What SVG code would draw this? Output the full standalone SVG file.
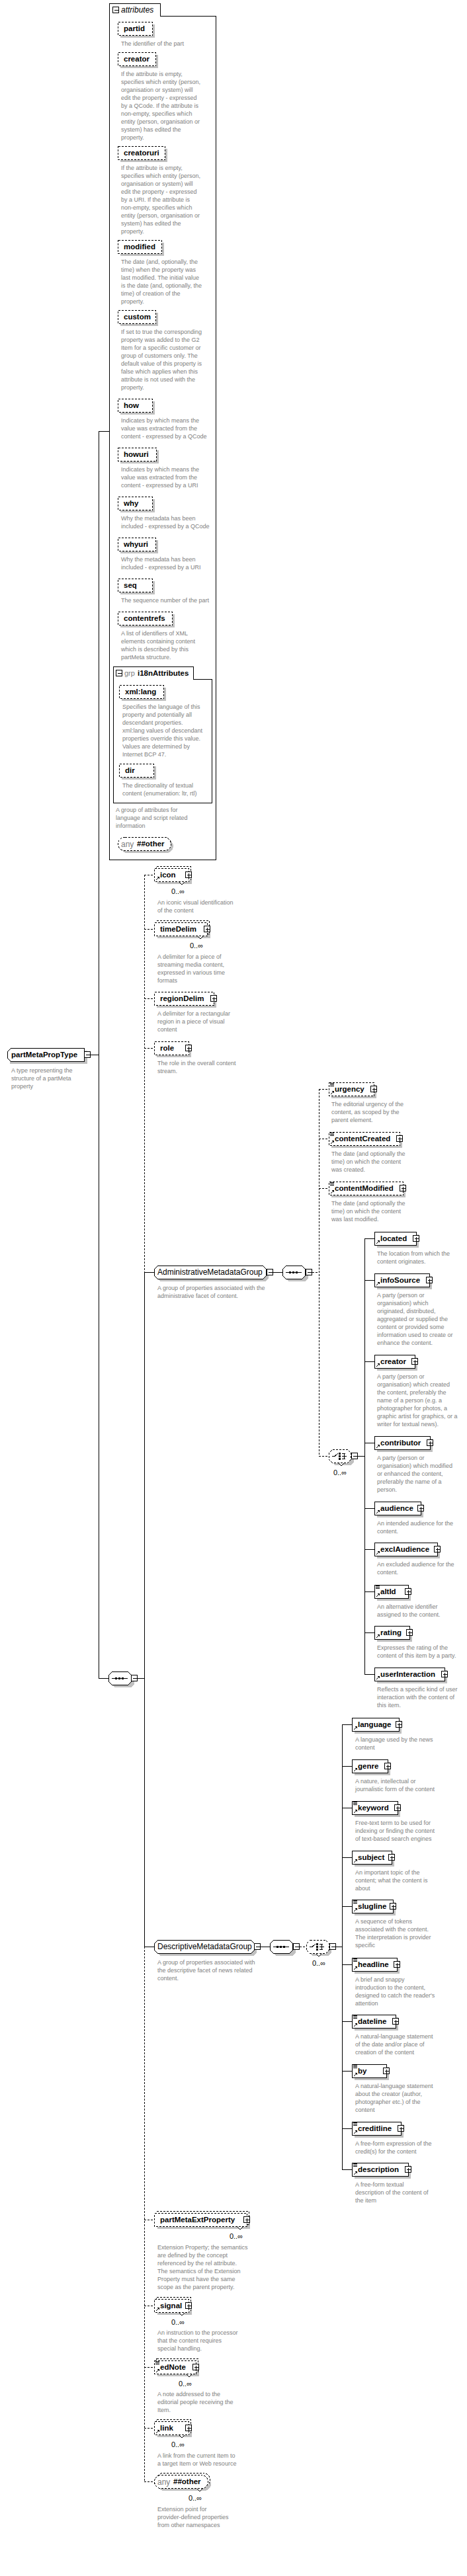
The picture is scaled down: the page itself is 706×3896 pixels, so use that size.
<svg xmlns="http://www.w3.org/2000/svg" xmlns:xlink="http://www.w3.org/1999/xlink" width="706" height="3896" viewBox="0 0 706 3896" shape-rendering="crispEdges">
<style>
.sh{fill:#c0c0c0;stroke:none}
.bx{fill:#fff;stroke:#000;stroke-width:1}
.dsh{stroke-dasharray:3 2}
.nt{fill:#fff;stroke:#000;stroke-width:1}
.ln{stroke:#000;stroke-width:1;fill:none}
.dl{stroke:#000;stroke-width:1;fill:none;stroke-dasharray:3 2}
.nm{font-family:"Liberation Sans",Arial,sans-serif;font-weight:bold;font-size:11.5px;fill:#000}
.ds{font-family:"Liberation Sans",Arial,sans-serif;font-size:9px;fill:#808080}
.oc{font-family:"Liberation Sans",Arial,sans-serif;font-size:11px;fill:#000}
.gn{font-family:"Liberation Sans",Arial,sans-serif;font-size:12px;fill:#000}
.gy{font-family:"Liberation Sans",Arial,sans-serif;font-size:12px;fill:#808080}
.it{font-family:"Liberation Sans",Arial,sans-serif;font-size:12px;font-style:italic;fill:#000}
</style>
<defs>
<g id="pl"><rect x="-4.5" y="-4.5" width="9" height="9" fill="#fff" stroke="#000"/><rect x="-2.5" y="-0.5" width="6" height="1" fill="#000"/><rect x="0" y="-2.5" width="1" height="6" fill="#000"/></g>
<g id="mi"><rect x="-4.5" y="-4.5" width="9" height="9" fill="#fff" stroke="#000"/><rect x="-2.5" y="-0.5" width="6" height="1" fill="#000"/></g>
<g id="rf"><path d="M0,0L4,-4" stroke="#000" stroke-width="1.4" fill="none"/><path d="M1,-5H5V-1Z" fill="#000"/></g>
<g id="eq"><path d="M0,0.5H6M0,2.5H6M0,4.5H6" stroke="#000" fill="none"/></g>
<g id="seqg"><path d="M5,0.5H29" stroke="#000" fill="none"/><rect x="10" y="-1" width="3" height="3" fill="#000"/><rect x="15" y="-1" width="3" height="3" fill="#000"/><rect x="20" y="-1" width="3" height="3" fill="#000"/></g>
<g id="chg"><path d="M5,0.5H9L14,-4M20,-3.5H25M20,0.5H27M20,4.5H25M23,-3.5V4.5" stroke="#000" fill="none"/><rect x="15" y="-5" width="3" height="3" fill="#000"/><rect x="15" y="-1" width="3" height="3" fill="#000"/><rect x="15" y="3" width="3" height="3" fill="#000"/></g>
</defs>
<rect x="0" y="0" width="706" height="3896" fill="#fff"/>

<g id="connectors">
<path class="ln" d="M149.5,652V2538M149,652.5H165M137,1595.5H150M149,2538.5H164M208,2538.5H218"/>
<path class="dl" d="M218.5,1323V1924"/>
<path class="ln" d="M218.5,1924V2944"/>
<path class="dl" d="M218.5,2944V3753"/>
<path class="dl" d="M218,1323.5H233M218,1405.5H233M218,1510.5H233M218,1585.5H233M218,3357.5H233M218,3487.5H233M218,3580.5H233M218,3672.5H233M218,3753.5H233"/>
<path class="ln" d="M218,1924.5H233M218,2944.5H233"/>
<path class="ln" d="M413,1924.5H427"/>
<path class="dl" d="M472,1924.5H482M482.5,1647V2202M482,1647.5H497M482,1722.5H497M482,1797.5H497M482,2202.5H497"/>
<path class="ln" d="M541,2202.5H551M551.5,1873V2532"/>
<path class="ln" d="M551,1873.5H566M551,1936.5H566M551,2059.5H566M551,2182.5H566M551,2281.5H566M551,2343.5H566M551,2407.5H566M551,2469.5H566M551,2532.5H566"/>
<path class="ln" d="M394,2944.5H408"/>
<path class="dl" d="M453,2944.5H463"/>
<path class="ln" d="M508,2944.5H517M517.5,2608V3281"/>
<path class="ln" d="M517,2608.5H532M517,2671.5H532M517,2734.5H532M517,2809.5H532M517,2883.5H532M517,2971.5H532M517,3057.5H532M517,3132.5H532M517,3219.5H532M517,3281.5H532"/>
</g>

<g id="n-partMetaPropType">
<path class="sh" d="M20,1589H132V1609H15V1594Z"/>
<path class="bx" d="M16.5,1585.5H127.5V1605.5H16.5L11.5,1600.5V1590.5Z"/>
<text class="nm" x="17" y="1599">partMetaPropType</text>
<use href="#mi" x="132" y="1595"/>
<text class="ds" x="17" y="1622"> A type representing the<tspan x="17" dy="12">structure of a partMeta</tspan><tspan x="17" dy="12">property</tspan></text>
</g>

<g id="n-attributes">
<path class="bx" d="M165.5,1300.5V5.5H242.5V24.5H326.5V1300.5Z"/>
<use href="#mi" x="175" y="15"/>
<text class="it" x="183" y="19">attributes</text>

<g id="a-partid"><rect class="sh" x="182" y="37" width="52" height="20"/><rect class="bx dsh" x="178.5" y="33.5" width="52" height="20"/><text class="nm" x="187" y="47">partid</text>
<text class="ds" x="183" y="69">The identifier of the part</text></g>

<g id="a-creator"><rect class="sh" x="182" y="83" width="57" height="20"/><rect class="bx dsh" x="178.5" y="79.5" width="57" height="20"/><text class="nm" x="187" y="93">creator</text>
<text class="ds" x="183" y="115">If the attribute is empty,<tspan x="183" dy="12">specifies which entity (person,</tspan><tspan x="183" dy="12">organisation or system) will</tspan><tspan x="183" dy="12">edit the property - expressed</tspan><tspan x="183" dy="12">by a QCode. If the attribute is</tspan><tspan x="183" dy="12">non-empty, specifies which</tspan><tspan x="183" dy="12">entity (person, organisation or</tspan><tspan x="183" dy="12">system) has edited the</tspan><tspan x="183" dy="12">property.</tspan></text></g>

<g id="a-creatoruri"><rect class="sh" x="182" y="225" width="71" height="20"/><rect class="bx dsh" x="178.5" y="221.5" width="71" height="20"/><text class="nm" x="187" y="235">creatoruri</text>
<text class="ds" x="183" y="257">If the attribute is empty,<tspan x="183" dy="12">specifies which entity (person,</tspan><tspan x="183" dy="12">organisation or system) will</tspan><tspan x="183" dy="12">edit the property - expressed</tspan><tspan x="183" dy="12">by a URI. If the attribute is</tspan><tspan x="183" dy="12">non-empty, specifies which</tspan><tspan x="183" dy="12">entity (person, organisation or</tspan><tspan x="183" dy="12">system) has edited the</tspan><tspan x="183" dy="12">property.</tspan></text></g>

<g id="a-modified"><rect class="sh" x="182" y="367" width="66" height="20"/><rect class="bx dsh" x="178.5" y="363.5" width="66" height="20"/><text class="nm" x="187" y="377">modified</text>
<text class="ds" x="183" y="399">The date (and, optionally, the<tspan x="183" dy="12">time) when the property was</tspan><tspan x="183" dy="12">last modified. The initial value</tspan><tspan x="183" dy="12">is the date (and, optionally, the</tspan><tspan x="183" dy="12">time) of creation of the</tspan><tspan x="183" dy="12">property.</tspan></text></g>

<g id="a-custom"><rect class="sh" x="182" y="473" width="57" height="20"/><rect class="bx dsh" x="178.5" y="469.5" width="57" height="20"/><text class="nm" x="187" y="483">custom</text>
<text class="ds" x="183" y="505">If set to true the corresponding<tspan x="183" dy="12">property was added to the G2</tspan><tspan x="183" dy="12">Item for a specific customer or</tspan><tspan x="183" dy="12">group of customers only. The</tspan><tspan x="183" dy="12">default value of this property is</tspan><tspan x="183" dy="12">false which applies when this</tspan><tspan x="183" dy="12">attribute is not used with the</tspan><tspan x="183" dy="12">property.</tspan></text></g>

<g id="a-how"><rect class="sh" x="182" y="607" width="52" height="20"/><rect class="bx dsh" x="178.5" y="603.5" width="52" height="20"/><text class="nm" x="187" y="617">how</text>
<text class="ds" x="183" y="639">Indicates by which means the<tspan x="183" dy="12">value was extracted from the</tspan><tspan x="183" dy="12">content - expressed by a QCode</tspan></text></g>

<g id="a-howuri"><rect class="sh" x="182" y="681" width="58" height="20"/><rect class="bx dsh" x="178.5" y="677.5" width="58" height="20"/><text class="nm" x="187" y="691">howuri</text>
<text class="ds" x="183" y="713">Indicates by which means the<tspan x="183" dy="12">value was extracted from the</tspan><tspan x="183" dy="12">content - expressed by a URI</tspan></text></g>

<g id="a-why"><rect class="sh" x="182" y="755" width="52" height="20"/><rect class="bx dsh" x="178.5" y="751.5" width="52" height="20"/><text class="nm" x="187" y="765">why</text>
<text class="ds" x="183" y="787">Why the metadata has been<tspan x="183" dy="12">included - expressed by a QCode</tspan></text></g>

<g id="a-whyuri"><rect class="sh" x="182" y="817" width="57" height="20"/><rect class="bx dsh" x="178.5" y="813.5" width="57" height="20"/><text class="nm" x="187" y="827">whyuri</text>
<text class="ds" x="183" y="849">Why the metadata has been<tspan x="183" dy="12">included - expressed by a URI</tspan></text></g>

<g id="a-seq"><rect class="sh" x="182" y="879" width="52" height="20"/><rect class="bx dsh" x="178.5" y="875.5" width="52" height="20"/><text class="nm" x="187" y="889">seq</text>
<text class="ds" x="183" y="911">The sequence number of the part</text></g>

<g id="a-contentrefs"><rect class="sh" x="182" y="929" width="82" height="20"/><rect class="bx dsh" x="178.5" y="925.5" width="82" height="20"/><text class="nm" x="187" y="939">contentrefs</text>
<text class="ds" x="183" y="961">A list of identifiers of XML<tspan x="183" dy="12">elements containing content</tspan><tspan x="183" dy="12">which is described by this</tspan><tspan x="183" dy="12">partMeta structure.</tspan></text></g>

<g id="a-i18nAttributes">
<path class="bx" d="M171.5,1214.5V1008.5H292.5V1027.5H320.5V1214.5Z"/>
<use href="#mi" x="180" y="1018"/>
<text class="gy" x="188" y="1022" style="font-size:11px">grp</text>
<text class="nm" x="208" y="1022">i18nAttributes</text>
<g id="a-xmllang"><rect class="sh" x="184" y="1040" width="67" height="20"/><rect class="bx dsh" x="180.5" y="1036.5" width="67" height="20"/><text class="nm" x="189" y="1050">xml:lang</text>
<text class="ds" x="185" y="1072">Specifies the language of this<tspan x="185" dy="12">property and potentially all</tspan><tspan x="185" dy="12">descendant properties.</tspan><tspan x="185" dy="12">xml:lang values of descendant</tspan><tspan x="185" dy="12">properties override this value.</tspan><tspan x="185" dy="12">Values are determined by</tspan><tspan x="185" dy="12">Internet BCP 47.</tspan></text></g>
<g id="a-dir"><rect class="sh" x="184" y="1159" width="52" height="20"/><rect class="bx dsh" x="180.5" y="1155.5" width="52" height="20"/><text class="nm" x="189" y="1169">dir</text>
<text class="ds" x="185" y="1191">The directionality of textual<tspan x="185" dy="12">content (enumeration: ltr, rtl)</tspan></text></g>
<text class="ds" x="175" y="1228">A group of attributes for<tspan x="175" dy="12">language and script related</tspan><tspan x="175" dy="12">information</tspan></text>
</g>

<g id="a-any"><rect class="sh" x="182" y="1270" width="80" height="20" rx="10"/><rect class="bx dsh" x="178.5" y="1266.5" width="80" height="20" rx="10"/><text class="gy" x="183" y="1281">any</text><text class="nm" x="207" y="1280">##other</text></g>
</g>

<g id="n-sequence">
<path class="sh" d="M173,2532H198L203,2537V2547L198,2552H173L168,2547V2537Z"/>
<path class="bx" d="M169.5,2528.5H193.5L198.5,2533.5V2543.5L193.5,2548.5H169.5L164.5,2543.5V2533.5Z"/>
<use href="#seqg" x="164" y="2538"/>
<use href="#mi" x="203" y="2538"/>
</g>

<g id="n-icon">
<rect class="sh" x="238" y="1317" width="52" height="20"/>
<rect class="bx dsh" x="236.5" y="1310.5" width="52" height="20"/>
<rect class="bx dsh" x="233.5" y="1313.5" width="52" height="20"/>
<path class="nt" d="M271,1334l4,4l4,-4"/>
<use href="#rf" x="236" y="1331"/>
<text class="nm" x="242" y="1327">icon</text>
<use href="#pl" x="285" y="1323"/>
<text class="oc" x="279" y="1352" text-anchor="end">0..∞</text>
<text class="ds" x="238" y="1368">An iconic visual identification<tspan x="238" dy="12">of the content</tspan></text>
</g>

<g id="n-timeDelim">
<rect class="sh" x="238" y="1399" width="80" height="20"/>
<rect class="bx dsh" x="236.5" y="1392.5" width="80" height="20"/>
<rect class="bx dsh" x="233.5" y="1395.5" width="80" height="20"/>
<path class="nt" d="M299,1416l4,4l4,-4"/>
<text class="nm" x="242" y="1409">timeDelim</text>
<use href="#pl" x="313" y="1405"/>
<text class="oc" x="307" y="1434" text-anchor="end">0..∞</text>
<text class="ds" x="238" y="1450">A delimiter for a piece of<tspan x="238" dy="12">streaming media content,</tspan><tspan x="238" dy="12">expressed in various time</tspan><tspan x="238" dy="12">formats</tspan></text>
</g>

<g id="n-regionDelim">
<rect class="sh" x="237" y="1504" width="90" height="20"/>
<rect class="bx dsh" x="233.5" y="1500.5" width="90" height="20"/>
<text class="nm" x="242" y="1514">regionDelim</text>
<use href="#pl" x="323" y="1510"/>
<text class="ds" x="238" y="1536">A delimiter for a rectangular<tspan x="238" dy="12">region in a piece of visual</tspan><tspan x="238" dy="12">content</tspan></text>
</g>

<g id="n-role">
<rect class="sh" x="237" y="1579" width="52" height="20"/>
<rect class="bx dsh" x="233.5" y="1575.5" width="52" height="20"/>
<text class="nm" x="242" y="1589">role</text>
<use href="#pl" x="285" y="1585"/>
<text class="ds" x="238" y="1611">The role in the overall content<tspan x="238" dy="12">stream.</tspan></text>
</g>

<g id="n-AdministrativeMetadataGroup">
<path class="sh" d="M242,1918H401L406,1923V1933L401,1938H242L237,1933V1923Z"/>
<path class="bx" d="M238.5,1914.5H397.5L402.5,1919.5V1929.5L397.5,1934.5H238.5L233.5,1929.5V1919.5Z"/>
<text class="gn" x="238" y="1928">AdministrativeMetadataGroup</text>
<use href="#mi" x="408" y="1924"/>
<path class="sh" d="M436,1918H461L466,1923V1933L461,1938H436L431,1933V1923Z"/>
<path class="bx" d="M432.5,1914.5H456.5L461.5,1919.5V1929.5L456.5,1934.5H432.5L427.5,1929.5V1919.5Z"/>
<use href="#seqg" x="427" y="1924"/>
<use href="#mi" x="467" y="1924"/>
<text class="ds" x="238" y="1951">A group of properties associated with the<tspan x="238" dy="12">administrative facet of content.</tspan></text>
</g>

<g id="n-urgency">
<rect class="sh" x="501" y="1641" width="68" height="20"/>
<rect class="bx dsh" x="497.5" y="1637.5" width="68" height="20"/>
<use href="#eq" x="499" y="1638"/><use href="#rf" x="500" y="1655"/>
<text class="nm" x="506" y="1651">urgency</text>
<use href="#pl" x="565" y="1647"/>
<text class="ds" x="501" y="1673">The editorial urgency of the<tspan x="501" dy="12">content, as scoped by the</tspan><tspan x="501" dy="12">parent element.</tspan></text>
</g>

<g id="n-contentCreated">
<rect class="sh" x="501" y="1716" width="107" height="20"/>
<rect class="bx dsh" x="497.5" y="1712.5" width="107" height="20"/>
<use href="#eq" x="499" y="1713"/><use href="#rf" x="500" y="1730"/>
<text class="nm" x="506" y="1726">contentCreated</text>
<use href="#pl" x="604" y="1722"/>
<text class="ds" x="501" y="1748">The date (and optionally the<tspan x="501" dy="12">time) on which the content</tspan><tspan x="501" dy="12">was created.</tspan></text>
</g>

<g id="n-contentModified">
<rect class="sh" x="501" y="1791" width="112" height="20"/>
<rect class="bx dsh" x="497.5" y="1787.5" width="112" height="20"/>
<use href="#eq" x="499" y="1788"/><use href="#rf" x="500" y="1805"/>
<text class="nm" x="506" y="1801">contentModified</text>
<use href="#pl" x="609" y="1797"/>
<text class="ds" x="501" y="1823">The date (and optionally the<tspan x="501" dy="12">time) on which the content</tspan><tspan x="501" dy="12">was last modified.</tspan></text>
</g>

<g id="n-adminChoice">
<path class="sh" d="M506,2196H530L535,2201V2211L530,2216H506L501,2211V2201Z"/>
<path class="bx dsh" d="M502.5,2192.5H525.5L530.5,2197.5V2207.5L525.5,2212.5H502.5L497.5,2207.5V2197.5Z"/>
<use href="#chg" x="497" y="2202"/>
<path class="nt" d="M512,2213l4,4l4,-4"/>
<use href="#mi" x="536" y="2202"/>
<text class="oc" x="524" y="2231" text-anchor="end">0..∞</text>
</g>

<g id="n-located">
<rect class="sh" x="570" y="1867" width="63" height="20"/>
<rect class="bx" x="566.5" y="1863.5" width="63" height="20"/>
<use href="#rf" x="569" y="1881"/>
<text class="nm" x="575" y="1877">located</text>
<use href="#pl" x="629" y="1873"/>
<text class="ds" x="570" y="1899">The location from which the<tspan x="570" dy="12">content originates.</tspan></text>
</g>

<g id="n-infoSource">
<rect class="sh" x="570" y="1930" width="83" height="20"/>
<rect class="bx" x="566.5" y="1926.5" width="83" height="20"/>
<use href="#rf" x="569" y="1944"/>
<text class="nm" x="575" y="1940">infoSource</text>
<use href="#pl" x="649" y="1936"/>
<text class="ds" x="570" y="1962">A party (person or<tspan x="570" dy="12">organisation) which</tspan><tspan x="570" dy="12">originated, distributed,</tspan><tspan x="570" dy="12">aggregated or supplied the</tspan><tspan x="570" dy="12">content or provided some</tspan><tspan x="570" dy="12">information used to create or</tspan><tspan x="570" dy="12">enhance the content.</tspan></text>
</g>

<g id="n-creator">
<rect class="sh" x="570" y="2053" width="61" height="20"/>
<rect class="bx" x="566.5" y="2049.5" width="61" height="20"/>
<use href="#rf" x="569" y="2067"/>
<text class="nm" x="575" y="2063">creator</text>
<use href="#pl" x="627" y="2059"/>
<text class="ds" x="570" y="2085">A party (person or<tspan x="570" dy="12">organisation) which created</tspan><tspan x="570" dy="12">the content, preferably the</tspan><tspan x="570" dy="12">name of a person (e.g. a</tspan><tspan x="570" dy="12">photographer for photos, a</tspan><tspan x="570" dy="12">graphic artist for graphics, or a</tspan><tspan x="570" dy="12">writer for textual news).</tspan></text>
</g>

<g id="n-contributor">
<rect class="sh" x="570" y="2176" width="84" height="20"/>
<rect class="bx" x="566.5" y="2172.5" width="84" height="20"/>
<use href="#rf" x="569" y="2190"/>
<text class="nm" x="575" y="2186">contributor</text>
<use href="#pl" x="650" y="2182"/>
<text class="ds" x="570" y="2208">A party (person or<tspan x="570" dy="12">organisation) which modified</tspan><tspan x="570" dy="12">or enhanced the content,</tspan><tspan x="570" dy="12">preferably the name of a</tspan><tspan x="570" dy="12">person.</tspan></text>
</g>

<g id="n-audience">
<rect class="sh" x="570" y="2275" width="70" height="20"/>
<rect class="bx" x="566.5" y="2271.5" width="70" height="20"/>
<use href="#rf" x="569" y="2289"/>
<text class="nm" x="575" y="2285">audience</text>
<use href="#pl" x="636" y="2281"/>
<text class="ds" x="570" y="2307">An intended audience for the<tspan x="570" dy="12">content.</tspan></text>
</g>

<g id="n-exclAudience">
<rect class="sh" x="570" y="2337" width="95" height="20"/>
<rect class="bx" x="566.5" y="2333.5" width="95" height="20"/>
<use href="#rf" x="569" y="2351"/>
<text class="nm" x="575" y="2347">exclAudience</text>
<use href="#pl" x="661" y="2343"/>
<text class="ds" x="570" y="2369">An excluded audience for the<tspan x="570" dy="12">content.</tspan></text>
</g>

<g id="n-altId">
<rect class="sh" x="570" y="2401" width="51" height="20"/>
<rect class="bx" x="566.5" y="2397.5" width="51" height="20"/>
<use href="#eq" x="568" y="2398"/><use href="#rf" x="569" y="2415"/>
<text class="nm" x="575" y="2411">altId</text>
<use href="#pl" x="617" y="2407"/>
<text class="ds" x="570" y="2433">An alternative identifier<tspan x="570" dy="12">assigned to the content.</tspan></text>
</g>

<g id="n-rating">
<rect class="sh" x="570" y="2463" width="53" height="20"/>
<rect class="bx" x="566.5" y="2459.5" width="53" height="20"/>
<use href="#rf" x="569" y="2477"/>
<text class="nm" x="575" y="2473">rating</text>
<use href="#pl" x="619" y="2469"/>
<text class="ds" x="570" y="2495">Expresses the rating of the<tspan x="570" dy="12">content of this item by a party.</tspan></text>
</g>

<g id="n-userInteraction">
<rect class="sh" x="570" y="2526" width="106" height="20"/>
<rect class="bx" x="566.5" y="2522.5" width="106" height="20"/>
<use href="#rf" x="569" y="2540"/>
<text class="nm" x="575" y="2536">userInteraction</text>
<use href="#pl" x="672" y="2532"/>
<text class="ds" x="570" y="2558">Reflects a specific kind of user<tspan x="570" dy="12">interaction with the content of</tspan><tspan x="570" dy="12">this item.</tspan></text>
</g>

<g id="n-DescriptiveMetadataGroup">
<path class="sh" d="M242,2938H383L388,2943V2953L383,2958H242L237,2953V2943Z"/>
<path class="bx" d="M238.5,2934.5H379.5L384.5,2939.5V2949.5L379.5,2954.5H238.5L233.5,2949.5V2939.5Z"/>
<text class="gn" x="238" y="2948">DescriptiveMetadataGroup</text>
<use href="#mi" x="389" y="2944"/>
<path class="sh" d="M417,2938H442L447,2943V2953L442,2958H417L412,2953V2943Z"/>
<path class="bx" d="M413.5,2934.5H437.5L442.5,2939.5V2949.5L437.5,2954.5H413.5L408.5,2949.5V2939.5Z"/>
<use href="#seqg" x="408" y="2944"/>
<use href="#mi" x="448" y="2944"/>
<path class="sh" d="M472,2938H496L501,2943V2953L496,2958H472L467,2953V2943Z"/>
<path class="bx dsh" d="M468.5,2934.5H492.5L497.5,2939.5V2949.5L492.5,2954.5H468.5L463.5,2949.5V2939.5Z"/>
<use href="#chg" x="463" y="2944"/>
<path class="nt" d="M478,2955l4,4l4,-4"/>
<use href="#mi" x="503" y="2944"/>
<text class="oc" x="492" y="2973" text-anchor="end">0..∞</text>
<text class="ds" x="238" y="2971">A group of properties associated with<tspan x="238" dy="12">the descriptive facet of news related</tspan><tspan x="238" dy="12">content.</tspan></text>
</g>

<g id="n-language">
<rect class="sh" x="536" y="2602" width="71" height="20"/>
<rect class="bx" x="532.5" y="2598.5" width="71" height="20"/>
<use href="#rf" x="535" y="2616"/>
<text class="nm" x="541" y="2612">language</text>
<use href="#pl" x="603" y="2608"/>
<text class="ds" x="537" y="2634">A language used by the news<tspan x="537" dy="12">content</tspan></text>
</g>

<g id="n-genre">
<rect class="sh" x="536" y="2665" width="54" height="20"/>
<rect class="bx" x="532.5" y="2661.5" width="54" height="20"/>
<use href="#rf" x="535" y="2679"/>
<text class="nm" x="541" y="2675">genre</text>
<use href="#pl" x="586" y="2671"/>
<text class="ds" x="537" y="2697">A nature, intellectual or<tspan x="537" dy="12">journalistic form of the content</tspan></text>
</g>

<g id="n-keyword">
<rect class="sh" x="536" y="2728" width="69" height="20"/>
<rect class="bx" x="532.5" y="2724.5" width="69" height="20"/>
<use href="#eq" x="534" y="2725"/><use href="#rf" x="535" y="2742"/>
<text class="nm" x="541" y="2738">keyword</text>
<use href="#pl" x="601" y="2734"/>
<text class="ds" x="537" y="2760">Free-text term to be used for<tspan x="537" dy="12">indexing or finding the content</tspan><tspan x="537" dy="12">of text-based search engines</tspan></text>
</g>

<g id="n-subject">
<rect class="sh" x="536" y="2803" width="60" height="20"/>
<rect class="bx" x="532.5" y="2799.5" width="60" height="20"/>
<use href="#rf" x="535" y="2817"/>
<text class="nm" x="541" y="2813">subject</text>
<use href="#pl" x="592" y="2809"/>
<text class="ds" x="537" y="2835">An important topic of the<tspan x="537" dy="12">content; what the content is</tspan><tspan x="537" dy="12">about</tspan></text>
</g>

<g id="n-slugline">
<rect class="sh" x="536" y="2877" width="62" height="20"/>
<rect class="bx" x="532.5" y="2873.5" width="62" height="20"/>
<use href="#eq" x="534" y="2874"/><use href="#rf" x="535" y="2891"/>
<text class="nm" x="541" y="2887">slugline</text>
<use href="#pl" x="594" y="2883"/>
<text class="ds" x="537" y="2909">A sequence of tokens<tspan x="537" dy="12">associated with the content.</tspan><tspan x="537" dy="12">The interpretation is provider</tspan><tspan x="537" dy="12">specific</tspan></text>
</g>

<g id="n-headline">
<rect class="sh" x="536" y="2965" width="68" height="20"/>
<rect class="bx" x="532.5" y="2961.5" width="68" height="20"/>
<use href="#eq" x="534" y="2962"/><use href="#rf" x="535" y="2979"/>
<text class="nm" x="541" y="2975">headline</text>
<use href="#pl" x="600" y="2971"/>
<text class="ds" x="537" y="2997">A brief and snappy<tspan x="537" dy="12">introduction to the content,</tspan><tspan x="537" dy="12">designed to catch the reader's</tspan><tspan x="537" dy="12">attention</tspan></text>
</g>

<g id="n-dateline">
<rect class="sh" x="536" y="3051" width="66" height="20"/>
<rect class="bx" x="532.5" y="3047.5" width="66" height="20"/>
<use href="#eq" x="534" y="3048"/><use href="#rf" x="535" y="3065"/>
<text class="nm" x="541" y="3061">dateline</text>
<use href="#pl" x="598" y="3057"/>
<text class="ds" x="537" y="3083">A natural-language statement<tspan x="537" dy="12">of the date and/or place of</tspan><tspan x="537" dy="12">creation of the content</tspan></text>
</g>

<g id="n-by">
<rect class="sh" x="536" y="3126" width="52" height="20"/>
<rect class="bx" x="532.5" y="3122.5" width="52" height="20"/>
<use href="#eq" x="534" y="3123"/><use href="#rf" x="535" y="3140"/>
<text class="nm" x="541" y="3136">by</text>
<use href="#pl" x="584" y="3132"/>
<text class="ds" x="537" y="3158">A natural-language statement<tspan x="537" dy="12">about the creator (author,</tspan><tspan x="537" dy="12">photographer etc.) of the</tspan><tspan x="537" dy="12">content</tspan></text>
</g>

<g id="n-creditline">
<rect class="sh" x="536" y="3213" width="74" height="20"/>
<rect class="bx" x="532.5" y="3209.5" width="74" height="20"/>
<use href="#eq" x="534" y="3210"/><use href="#rf" x="535" y="3227"/>
<text class="nm" x="541" y="3223">creditline</text>
<use href="#pl" x="606" y="3219"/>
<text class="ds" x="537" y="3245">A free-form expression of the<tspan x="537" dy="12">credit(s) for the content</tspan></text>
</g>

<g id="n-description">
<rect class="sh" x="536" y="3275" width="85" height="20"/>
<rect class="bx" x="532.5" y="3271.5" width="85" height="20"/>
<use href="#eq" x="534" y="3272"/><use href="#rf" x="535" y="3289"/>
<text class="nm" x="541" y="3285">description</text>
<use href="#pl" x="617" y="3281"/>
<text class="ds" x="537" y="3307">A free-form textual<tspan x="537" dy="12">description of the content of</tspan><tspan x="537" dy="12">the item</tspan></text>
</g>

<g id="n-partMetaExtProperty">
<rect class="sh" x="238" y="3351" width="140" height="20"/>
<rect class="bx dsh" x="236.5" y="3344.5" width="140" height="20"/>
<rect class="bx dsh" x="233.5" y="3347.5" width="140" height="20"/>
<path class="nt" d="M359,3368l4,4l4,-4"/>
<text class="nm" x="242" y="3361">partMetaExtProperty</text>
<use href="#pl" x="373" y="3357"/>
<text class="oc" x="367" y="3386" text-anchor="end">0..∞</text>
<text class="ds" x="238" y="3402">Extension Property; the semantics<tspan x="238" dy="12">are defined by the concept</tspan><tspan x="238" dy="12">referenced by the rel attribute.</tspan><tspan x="238" dy="12">The semantics of the Extension</tspan><tspan x="238" dy="12">Property must have the same</tspan><tspan x="238" dy="12">scope as the parent property.</tspan></text>
</g>

<g id="n-signal">
<rect class="sh" x="238" y="3481" width="52" height="20"/>
<rect class="bx dsh" x="236.5" y="3474.5" width="52" height="20"/>
<rect class="bx dsh" x="233.5" y="3477.5" width="52" height="20"/>
<path class="nt" d="M271,3498l4,4l4,-4"/>
<use href="#rf" x="236" y="3495"/>
<text class="nm" x="242" y="3491">signal</text>
<use href="#pl" x="285" y="3487"/>
<text class="oc" x="279" y="3516" text-anchor="end">0..∞</text>
<text class="ds" x="238" y="3531">An instruction to the processor<tspan x="238" dy="12">that the content requires</tspan><tspan x="238" dy="12">special handling.</tspan></text>
</g>

<g id="n-edNote">
<rect class="sh" x="238" y="3574" width="63" height="20"/>
<rect class="bx dsh" x="236.5" y="3567.5" width="63" height="20"/>
<rect class="bx dsh" x="233.5" y="3570.5" width="63" height="20"/>
<path class="nt" d="M282,3591l4,4l4,-4"/>
<use href="#eq" x="235" y="3571"/><use href="#rf" x="236" y="3588"/>
<text class="nm" x="242" y="3584">edNote</text>
<use href="#pl" x="296" y="3580"/>
<text class="oc" x="290" y="3609" text-anchor="end">0..∞</text>
<text class="ds" x="238" y="3624">A note addressed to the<tspan x="238" dy="12">editorial people receiving the</tspan><tspan x="238" dy="12">Item.</tspan></text>
</g>

<g id="n-link">
<rect class="sh" x="238" y="3666" width="52" height="20"/>
<rect class="bx dsh" x="236.5" y="3659.5" width="52" height="20"/>
<rect class="bx dsh" x="233.5" y="3662.5" width="52" height="20"/>
<path class="nt" d="M271,3683l4,4l4,-4"/>
<use href="#rf" x="236" y="3680"/>
<text class="nm" x="242" y="3676">link</text>
<use href="#pl" x="285" y="3672"/>
<text class="oc" x="279" y="3701" text-anchor="end">0..∞</text>
<text class="ds" x="238" y="3717">A link from the current Item to<tspan x="238" dy="12">a target Item or Web resource</tspan></text>
</g>

<g id="n-any">
<rect class="sh" x="238" y="3747" width="81" height="20" rx="10"/>
<rect class="bx dsh" x="236.5" y="3740.5" width="81" height="20" rx="10"/>
<rect class="bx dsh" x="233.5" y="3743.5" width="81" height="20" rx="10"/>
<path class="nt" d="M298,3764l4,4l4,-4"/>
<text class="gy" x="238" y="3758">any</text>
<text class="nm" x="262" y="3757">##other</text>
<text class="oc" x="305" y="3782" text-anchor="end">0..∞</text>
<text class="ds" x="238" y="3798">Extension point for<tspan x="238" dy="12">provider-defined properties</tspan><tspan x="238" dy="12">from other namespaces</tspan></text>
</g>
</svg>
